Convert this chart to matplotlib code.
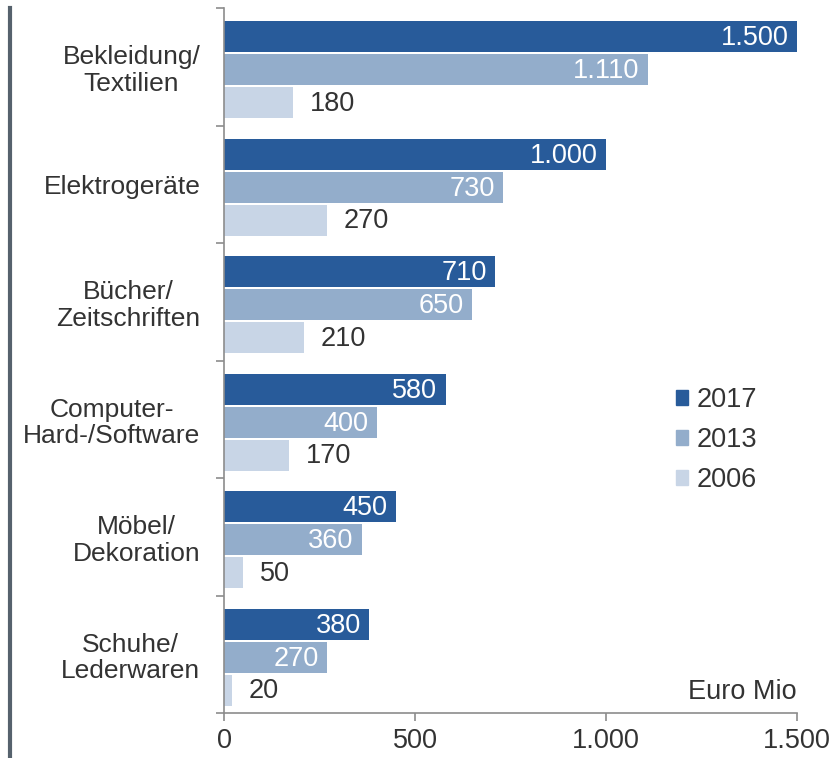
import numpy as np
import matplotlib.pyplot as plt
from matplotlib.patches import Patch
from matplotlib.lines import Line2D

plt.rcParams['font.family'] = ['Liberation Sans', 'DejaVu Sans']

# Daten
kategorien = ["Bekleidung/\nTextilien", "Elektrogeräte", "Bücher/\nZeitschriften",
              "Computer-\nHard-/Software", "Möbel/\nDekoration", "Schuhe/\nLederwaren"]
jahre = ["2017", "2013", "2006"]
werte_2017 = [1500, 1000, 710, 580, 450, 380]
werte_2013 = [1110, 730, 650, 400, 360, 270]
werte_2006 = [180, 270, 210, 170, 50, 20]
x_ticks = [0, 500, 1000, 1500]

farben = ["#285b9a", "#93adcb", "#c8d5e6"]
text_col = "#333333"
achse_col = "#8c8c8c"
fs = 19.5


def fmt(v):
    return f"{v:,}".replace(",", ".")


fig = plt.figure(figsize=(8.33, 7.58), dpi=100)
ax = fig.add_axes([224 / 833, 1 - 713 / 758, 573 / 833, 705 / 758])

y = np.arange(len(kategorien))
offsets = [-0.255, 0.025, 0.305]
hoehe = 0.265
serien = [werte_2017, werte_2013, werte_2006]

for k, (werte, off) in enumerate(zip(serien, offsets)):
    ax.barh(y + off, werte, height=hoehe, color=farben[k], label=jahre[k])
    for yi, v in zip(y + off, werte):
        if k < 2:
            ax.annotate(fmt(v), (v, yi), xytext=(-6, -1), textcoords="offset points",
                        ha="right", va="center", color="white", fontsize=fs)
        else:
            ax.annotate(fmt(v), (v, yi), xytext=(12, -1), textcoords="offset points",
                        ha="left", va="center", color=text_col, fontsize=fs)

ax.set_xlim(0, 1500)
ax.set_ylim(len(kategorien) - 0.5, -0.5)

ax.set_xticks(x_ticks)
ax.set_xticklabels([fmt(t) for t in x_ticks], fontsize=fs, color=text_col)
ax.set_yticks(y)
ax.set_yticklabels(kategorien, fontsize=19, color=text_col, ha="right",
                   multialignment="center", linespacing=1.12)
ax.set_yticks(np.arange(-0.5, len(kategorien)), minor=True)
ax.tick_params(axis="y", which="major", length=0, pad=17)
ax.tick_params(axis="y", which="minor", length=6, color=achse_col, width=1.2)
ax.tick_params(axis="x", length=6, color=achse_col, width=1.2, pad=5)

for s in ["top", "right"]:
    ax.spines[s].set_visible(False)
for s in ["left", "bottom"]:
    ax.spines[s].set_color(achse_col)
    ax.spines[s].set_linewidth(1.2)

ax.text(1.0, 0.03, "Euro Mio", transform=ax.transAxes, ha="right", va="center",
        fontsize=fs, color=text_col)

handles = [Patch(color=c) for c in farben]
ax.legend(handles, jahre, loc="upper left", bbox_to_anchor=(0.746, 0.497), frameon=False,
          fontsize=fs, handlelength=0.45, handleheight=0.45, handletextpad=0.3,
          labelspacing=0.52, labelcolor=text_col)

# dunkle Linie links
fig.add_artist(Line2D([10 / 833, 10 / 833], [0, 1 - 8 / 758], color="#56626d",
                      linewidth=3, transform=fig.transFigure))

fig.savefig("out.png", dpi=100)
